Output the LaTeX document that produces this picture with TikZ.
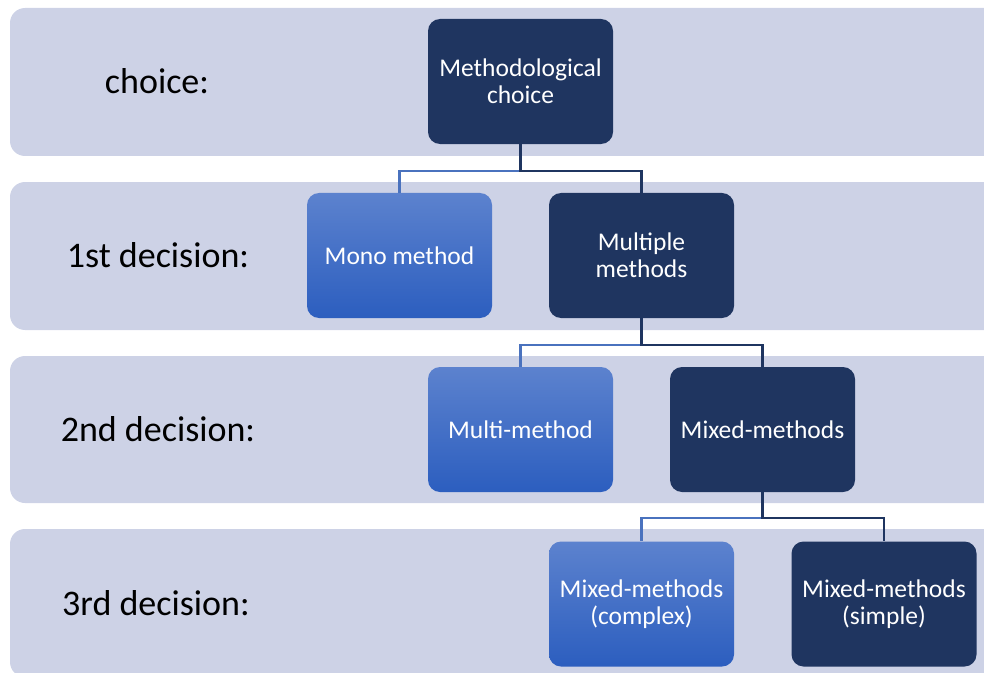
\documentclass[tikz,border=0pt]{standalone}
\usepackage{fontspec}
\setmainfont{Carlito}
\definecolor{bandcol}{HTML}{CDD2E6}
\definecolor{navy}{HTML}{1F3560}
\definecolor{bluetop}{HTML}{5C82CE}
\definecolor{bluebot}{HTML}{2C5EBF}
\definecolor{linkblue}{HTML}{4A72BE}
\begin{document}
\begin{tikzpicture}[x=1bp,y=-1bp,
  band/.style={fill=bandcol, rounded corners=15bp},
  boxbase/.style={rectangle, rounded corners=12bp, minimum width=185bp, minimum height=125bp,
    inner sep=0pt, align=center, text=white, font=\fontsize{25.5bp}{27bp}\selectfont},
  darkbox/.style={boxbase, fill=navy},
  bluebox/.style={boxbase, top color=bluetop, bottom color=bluebot},
  lvl/.style={font=\fontsize{36bp}{40bp}\selectfont, text=black, inner sep=0pt},
  darklink/.style={draw=navy, line width=2.4bp},
  bluelink/.style={draw=linkblue, line width=2.4bp}]
\useasboundingbox (0,0) rectangle (984,673);
\clip (0,0) rectangle (984,673);
% bands
\fill[band] (10,8) rectangle (1010,156);
\fill[band] (10,182) rectangle (1010,330);
\fill[band] (10,356) rectangle (1010,503);
\fill[band] (10,529) rectangle (1010,677);
% level labels
\node[lvl] (l0) at (157,81) {choice:};
\node[lvl] (l1) at (158,255) {1st decision:};
\node[lvl] (l2) at (158,429) {2nd decision:};
\node[lvl] (l3) at (156,603) {3rd decision:};
% boxes
\node[darkbox] (mc) at (520.5,81.5) {Methodological\\choice};
\node[bluebox] (mono) at (399.5,255.5) {Mono method};
\node[darkbox] (mult) at (641.5,255.5) {Multiple\\methods};
\node[bluebox] (multi) at (520.5,429.5) {Multi-method};
\node[darkbox] (mixed) at (762.5,429.5) {Mixed-methods};
\node[bluebox] (mcomp) at (641.5,604) {Mixed-methods\\(complex)};
\node[darkbox] (msimp) at (884,604) {Mixed-methods\\(simple)};
% connectors
\draw[bluelink] (mc.south) ++(0,27) -| (mono.north);
\draw[darklink] (mc.south) -- ++(0,27) -| (mult.north);
\draw[bluelink] (mult.south) ++(0,27) -| (multi.north);
\draw[darklink] (mult.south) -- ++(0,27) -| (mixed.north);
\draw[bluelink] (mixed.south) ++(0,26) -| (mcomp.north);
\draw[darklink] (mixed.south) -- ++(0,26) -| (msimp.north);
\end{tikzpicture}
\end{document}
